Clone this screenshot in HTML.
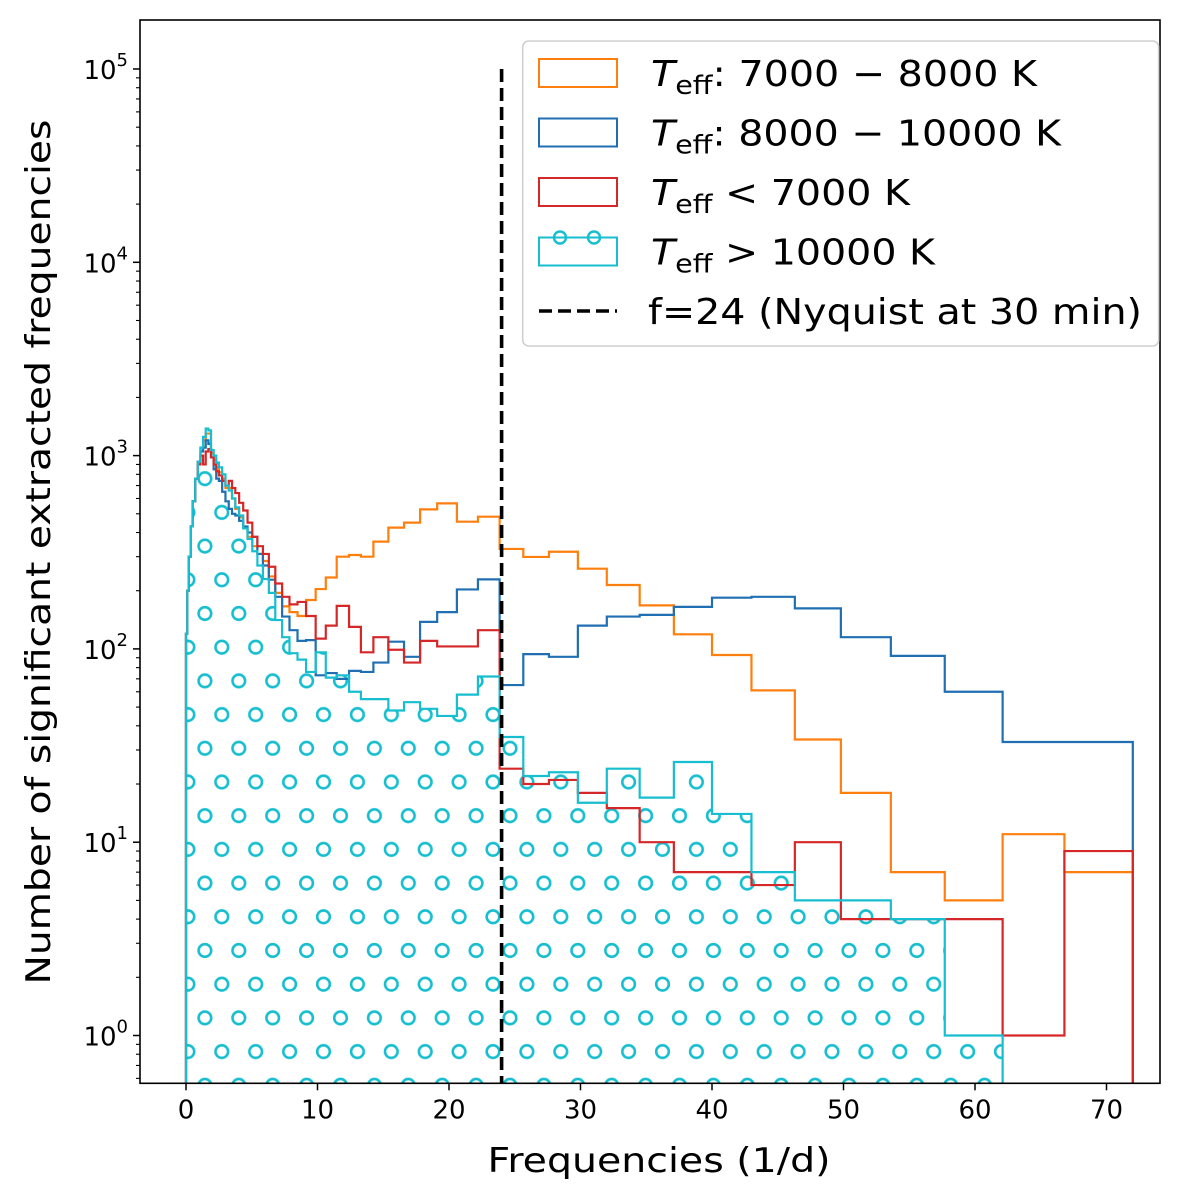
<!DOCTYPE html>
<html><head><meta charset="utf-8"><style>
body{margin:0;background:#fff}
svg{display:block;font-family:"DejaVu Sans","Liberation Sans",sans-serif}
</style></head><body>
<svg id="chart" width="1200" height="1203" viewBox="0 0 1200 1203" xmlns="http://www.w3.org/2000/svg">
<defs>
<pattern id="ohatch" patternUnits="userSpaceOnUse" x="493" y="798.7" width="33.9" height="67.4">
<circle cx="17" cy="17" r="6.3" fill="none" stroke="#17becf" stroke-width="2.6"/>
<circle cx="33.9" cy="50.7" r="6.3" fill="none" stroke="#17becf" stroke-width="2.6"/>
<circle cx="0" cy="50.7" r="6.3" fill="none" stroke="#17becf" stroke-width="2.6"/>
</pattern>
<clipPath id="plotclip"><rect x="140" y="20" width="1020" height="1063"/></clipPath>
</defs>
<rect x="0" y="0" width="1200" height="1203" fill="#fff"/>
<g id="marks" clip-path="url(#plotclip)"></g>
<g id="axes"></g>
</svg>
<script>
// ---- data ----
const binEdges = [0,0.1,0.2,0.35,0.5,0.7,0.9,1.1,1.3,1.5,1.7,1.9,2.1,2.3,2.5,2.75,3.0,3.25,3.5,3.75,4.04,4.35,4.68,5.04,5.43,5.85,6.30,6.79,7.31,7.87,8.48,9.13,9.86,10.63,11.46,12.4,13.3,14.25,15.39,16.58,17.8,19.1,20.6,22.2,23.85,25.65,27.6,29.8,32.0,34.5,37.1,40.0,43.0,46.3,49.8,53.6,57.7,62.1,66.8,72.0];
const countsOrange = [120,200,300,430,580,760,930,1100,1200,1300,1300,1030,950,870,820,760,680,680,600,530,480,420,380,340,310,285,237,195,166,155,148,179,204,234,300,306,300,359,424,450,527,566,455,483,329,299,318,260,214,168,119,93,61,34,18,7,5,11,7];
const countsBlue = [120,200,300,430,580,760,930,1050,1100,1200,1150,980,850,760,740,650,580,530,500,490,460,430,400,380,310,270,228,186,147,125,110,111,73,75,70,77,76,85,109,91,138,155,203,229,65,94,91,132,147,150,165,184,186,162,115,92,60,33,33];
const countsRed = [120,200,300,430,580,760,900,1000,900,1050,1080,980,900,830,790,740,700,740,680,640,570,520,450,380,340,310,266,218,186,170,175,148,113,132,167,130,96,115,99,85,110,103,103,125,24,20,21,18,15,10,7,7,6,10,4,4,4,1,9];
const countsCyan = [120,200,300,430,580,760,930,1100,1250,1380,1350,1070,1000,920,870,800,700,660,600,540,490,420,370,320,270,230,195,141,115,95,88,76,96,71,73,60,55,55,48,53,49,45,58,72,35,22,23,16,24,17,26,14,7,5,5,4,1,0,0];
const xTicks = [0,10,20,30,40,50,60,70];
const yTickExps = [0,1,2,3,4,5];
const nyquistF = 24;
const nyquistTop = 1e5;

// ---- axes functions ----
const PL=140, PR=1160, PT=20, PB=1083.3;
const X0=186, XS=13.15;
function xs(v){return X0+XS*v;}
const Y0=1035.5, DEC=193.3;
function ys(v){ if(v<=0) return PB+20; return Y0-DEC*Math.log10(v); }

const NS='http://www.w3.org/2000/svg';
function mk(tag,attrs,parent){const e=document.createElementNS(NS,tag);for(const k in attrs)e.setAttribute(k,attrs[k]);parent.appendChild(e);return e;}
const marks=document.getElementById('marks');
const axes=document.getElementById('axes');

function stepPath(counts){
  let d='M'+xs(binEdges[0])+','+(PB+20);
  for(let i=0;i<counts.length;i++){
    const y=ys(counts[i]);
    d+=' L'+xs(binEdges[i]).toFixed(2)+','+y.toFixed(2)+' L'+xs(binEdges[i+1]).toFixed(2)+','+y.toFixed(2);
  }
  d+=' L'+xs(binEdges[binEdges.length-1])+','+(PB+20);
  return d;
}
const hatch=mk('path',{d:stepPath(countsCyan)+' Z',fill:'url(#ohatch)',stroke:'none'},marks);


const series=[['orange',countsOrange,'#ff7f0e'],['blue',countsBlue,'#1f6fb2'],['red',countsRed,'#d62728'],['cyan',countsCyan,'#17becf']];
for(const s of series){
  const p=mk('path',{d:stepPath(s[1]),fill:'none',stroke:s[2],'stroke-width':2.2,'stroke-linejoin':'miter'},marks);
  
  
}
const ny=mk('line',{x1:xs(nyquistF),x2:xs(nyquistF),y1:ys(nyquistTop),y2:PB,stroke:'#000','stroke-width':3.6,'stroke-dasharray':'13,6'},marks);



const fr=mk('rect',{x:PL,y:PT,width:PR-PL,height:PB-PT,fill:'none',stroke:'#000','stroke-width':1.6},axes);


for(const t of xTicks){
  const x=xs(t);
  mk('line',{x1:x,x2:x,y1:PB,y2:PB+7,stroke:'#000','stroke-width':1.5},axes);
  const tx=mk('text',{x:x,y:PB+35,'font-size':26,'text-anchor':'middle',fill:'#000'},axes);
  tx.textContent=t;
  
  
}
for(const e of yTickExps){
  const y=Y0-DEC*e;
  mk('line',{x1:PL-7,x2:PL,y1:y,y2:y,stroke:'#000','stroke-width':1.5},axes);
  const tx=mk('text',{x:PL-12,y:y+10,'font-size':26,'text-anchor':'end',fill:'#000'},axes);
  
  
  tx.innerHTML='10<tspan dy="-13" font-size="18">'+e+'</tspan>';
}
for(let e=-1;e<=5;e++){
  for(let m=2;m<=9;m++){
    const y=Y0-DEC*(e+Math.log10(m));
    if(y<PT||y>PB) continue;
    mk('line',{x1:PL-4,x2:PL,y1:y,y2:y,stroke:'#000','stroke-width':1.1},axes);
  }
}
</script>
<svg style="position:absolute;left:0;top:0" width="1200" height="1203" xmlns="http://www.w3.org/2000/svg" font-family="DejaVu Sans, Liberation Sans, sans-serif">
<text x="659" y="1172" font-size="34" text-anchor="middle" textLength="343" lengthAdjust="spacingAndGlyphs">Frequencies (1/d)</text>
<text transform="translate(50,552) rotate(-90)" font-size="34" text-anchor="middle" textLength="865" lengthAdjust="spacingAndGlyphs">Number of significant extracted frequencies</text>
<g>
<rect x="522.7" y="41" width="636" height="305" rx="6" fill="#fff" fill-opacity="0.85" stroke="#d0d0d0" stroke-width="1.6"/>
<rect x="539" y="59" width="78" height="28" fill="none" stroke="#ff7f0e" stroke-width="2"/>
<rect x="539" y="118.5" width="78" height="28" fill="none" stroke="#1f6fb2" stroke-width="2"/>
<rect x="539" y="178" width="78" height="28" fill="none" stroke="#d62728" stroke-width="2"/>
<rect x="539" y="237.5" width="78" height="28" fill="none" stroke="#17becf" stroke-width="2"/>
<circle cx="560" cy="237.5" r="6" fill="none" stroke="#17becf" stroke-width="2.4"/>
<circle cx="594" cy="237.5" r="6" fill="none" stroke="#17becf" stroke-width="2.4"/>
<line x1="539" y1="311" x2="617" y2="311" stroke="#000" stroke-width="3.6" stroke-dasharray="13,6"/>
<text x="651" y="86" font-size="36" textLength="386" lengthAdjust="spacingAndGlyphs"><tspan font-style="italic">T</tspan><tspan dy="8" font-size="26">eff</tspan><tspan dy="-8">: 7000 − 8000 K</tspan></text>
<text x="651" y="145.5" font-size="36" textLength="410" lengthAdjust="spacingAndGlyphs"><tspan font-style="italic">T</tspan><tspan dy="8" font-size="26">eff</tspan><tspan dy="-8">: 8000 − 10000 K</tspan></text>
<text x="651" y="205" font-size="36" textLength="259" lengthAdjust="spacingAndGlyphs"><tspan font-style="italic">T</tspan><tspan dy="8" font-size="26">eff</tspan><tspan dy="-8"> &lt; 7000 K</tspan></text>
<text x="651" y="264.5" font-size="36" textLength="284" lengthAdjust="spacingAndGlyphs"><tspan font-style="italic">T</tspan><tspan dy="8" font-size="26">eff</tspan><tspan dy="-8"> &gt; 10000 K</tspan></text>
<text x="648" y="324" font-size="36" textLength="494" lengthAdjust="spacingAndGlyphs">f=24 (Nyquist at 30 min)</text>
</g>
</svg>
</body></html>
